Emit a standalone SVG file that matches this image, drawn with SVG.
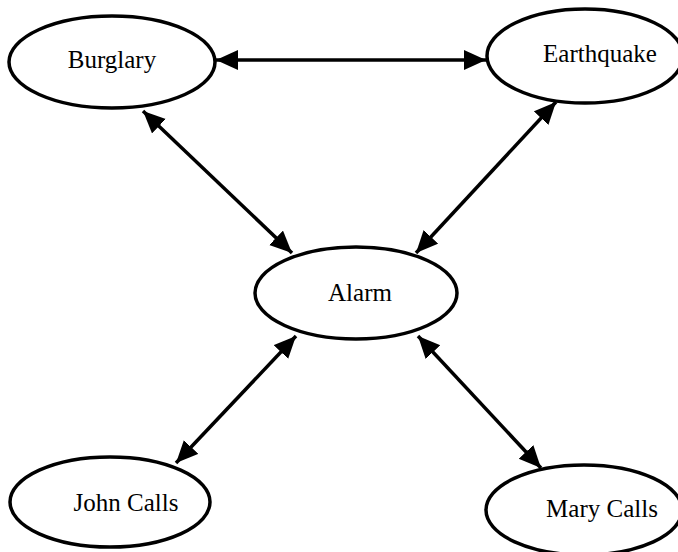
<svg xmlns="http://www.w3.org/2000/svg" width="678" height="552" viewBox="0 0 678 552">
<style>
.node ellipse{fill:#fff;stroke:#000;stroke-width:3.5}
.node text{font-family:"Liberation Serif","Times New Roman",serif;font-size:25px;fill:#000;text-anchor:middle}
.edge{stroke:#000;stroke-width:3.5;fill:none;marker-start:url(#ah);marker-end:url(#ah)}
</style>
<defs>
<marker id="ah" markerUnits="userSpaceOnUse" markerWidth="24" markerHeight="22" refX="22" refY="10" orient="auto-start-reverse">
<path d="M0,0 L22,10 L0,20 z" fill="#000"/>
</marker>
</defs>
<rect width="678" height="552" fill="#fff"/>
<g id="edges">
<line class="edge" x1="216" y1="60" x2="486" y2="60"/>
<line class="edge" x1="143" y1="111" x2="292" y2="253"/>
<line class="edge" x1="556" y1="102" x2="416" y2="253"/>
<line class="edge" x1="296" y1="336" x2="176" y2="463"/>
<line class="edge" x1="418" y1="336" x2="541" y2="468"/>
</g>
<g id="burglary" class="node"><ellipse cx="112" cy="62" rx="103" ry="46"/><text x="112" y="68">Burglary</text></g>
<g id="earthquake" class="node"><ellipse cx="585" cy="56" rx="98" ry="47"/><text x="600" y="62">Earthquake</text></g>
<g id="alarm" class="node"><ellipse cx="356" cy="293" rx="101" ry="46"/><text x="360" y="301">Alarm</text></g>
<g id="john" class="node"><ellipse cx="110" cy="502" rx="100" ry="45"/><text x="126" y="511">John Calls</text></g>
<g id="mary" class="node"><ellipse cx="584" cy="510" rx="98" ry="45"/><text x="602" y="517">Mary Calls</text></g>
</svg>
